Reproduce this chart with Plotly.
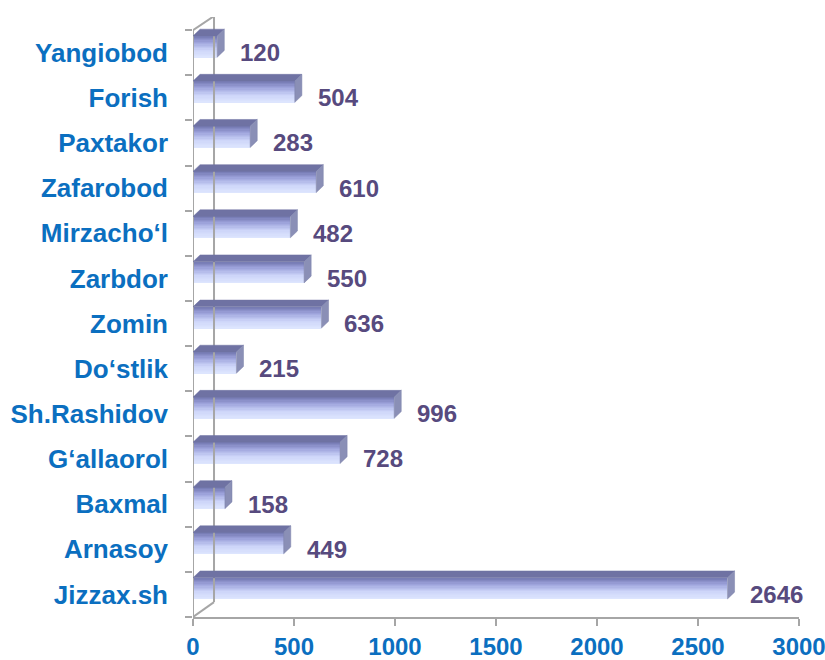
import plotly.graph_objects as go

# ---- data (bottom to top) ----
categories = ["Jizzax.sh", "Arnasoy", "Baxmal", "G‘allaorol", "Sh.Rashidov", "Do‘stlik",
              "Zomin", "Zarbdor", "Mirzacho‘l", "Zafarobod", "Paxtakor", "Forish", "Yangiobod"]
values = [2646, 449, 158, 728, 996, 215, 636, 550, 482, 610, 283, 504, 120]
x_ticks = [0, 500, 1000, 1500, 2000, 2500, 3000]

LABEL_BLUE = "#0b6fc0"
VALUE_PURPLE = "#574a7e"
AXIS_GRAY = "#a6a6a6"
FONT = "Liberation Sans, Arial, sans-serif"

ypos = list(range(len(categories)))

# 3D styling (in axis units)
front_lo, front_hi = -0.10, 0.37
top_hi = 0.52
depth_x = 35          # horizontal depth of the 3D effect (x units)
wall_x = 104          # back wall offset

fig = go.Figure()

# walls / axis frame
n = len(categories)
fig.add_trace(go.Scatter(
    x=[0, 0, None, 0, wall_x, wall_x, None, 0, wall_x],
    y=[-0.5, n - 0.5, None, n - 0.5, n - 0.5 + 0.31, -0.5 + 0.33, None, -0.5, -0.5 + 0.33],
    mode="lines", line=dict(color=AXIS_GRAY, width=2), hoverinfo="skip",
    showlegend=False, cliponaxis=False))

# front face gradient (bottom light -> top dark)
stops = [(0.0, (222, 231, 254)), (0.35, (206, 214, 249)), (0.7, (160, 166, 222)), (1.0, (118, 122, 180))]


def interp(t):
    for (t0, c0), (t1, c1) in zip(stops[:-1], stops[1:]):
        if t0 <= t <= t1:
            f = (t - t0) / (t1 - t0) if t1 > t0 else 0
            return "rgb(%d,%d,%d)" % tuple(round(a + (b - a) * f) for a, b in zip(c0, c1))
    return "rgb(%d,%d,%d)" % stops[-1][1]


N = 16
h = (front_hi - front_lo) / N
for i in range(N):
    fig.add_trace(go.Bar(
        x=values, y=ypos, orientation="h", base=0,
        width=h * 1.08, offset=front_lo + i * h,
        marker=dict(color=interp((i + 0.5) / N), line=dict(width=0)),
        hoverinfo="skip", showlegend=False))

# top face and side face polygons
tx, ty, sx, sy = [], [], [], []
for v, y in zip(values, ypos):
    tx += [0, v, v + depth_x, depth_x, 0, None]
    ty += [y + front_hi, y + front_hi, y + top_hi, y + top_hi, y + front_hi, None]
    sx += [v, v, v + depth_x, v + depth_x, v, None]
    sy += [y + front_lo, y + front_hi, y + top_hi, y + front_lo + (top_hi - front_hi), y + front_lo, None]

fig.add_trace(go.Scatter(x=tx, y=ty, fill="toself", mode="lines", fillcolor="#6f72a3",
                         line=dict(width=0.5, color="#6f72a3"), hoverinfo="skip", showlegend=False))
fig.add_trace(go.Scatter(x=sx, y=sy, fill="toself", mode="lines", fillcolor="#8a8fb6",
                         line=dict(width=0.5, color="#7d82aa"), hoverinfo="skip", showlegend=False))

# value labels
for v, y in zip(values, ypos):
    fig.add_annotation(x=v, y=y, text="<b>%d</b>" % v, showarrow=False,
                       xanchor="left", yanchor="middle", xshift=21,
                       font=dict(family=FONT, size=24, color=VALUE_PURPLE))

fig.update_layout(
    width=825, height=660,
    margin=dict(l=193, r=26, t=17, b=43),
    paper_bgcolor="white", plot_bgcolor="white",
    barmode="overlay", bargap=0,
    font=dict(family=FONT),
    xaxis=dict(range=[0, 3000], tickvals=x_ticks, ticktext=["<b>%d</b>" % t for t in x_ticks],
               showgrid=False, zeroline=False, showline=True, linecolor=AXIS_GRAY, linewidth=2,
               ticks="outside", ticklen=7, tickwidth=2, tickcolor=AXIS_GRAY,
               automargin=False, ticklabeloverflow="allow",
               tickfont=dict(family=FONT, size=24, color=LABEL_BLUE)),
    yaxis=dict(range=[-0.5, n - 0.5 + 0.29], tickvals=ypos,
               ticktext=["<b>%s</b>" % c for c in categories],
               showgrid=False, zeroline=False, showline=False, ticks="", ticklen=0,
               ticklabelstandoff=24, automargin=False,
               minor=dict(tickvals=[i - 0.5 for i in range(n + 1)], ticks="outside",
                          ticklen=7, tickwidth=2, tickcolor=AXIS_GRAY, showgrid=False),
               tickfont=dict(family=FONT, size=26, color=LABEL_BLUE)),
)

fig.write_html("out.html", config={"displayModeBar": False},
               post_script="document.body.style.margin='0';document.body.style.overflow='hidden';")
